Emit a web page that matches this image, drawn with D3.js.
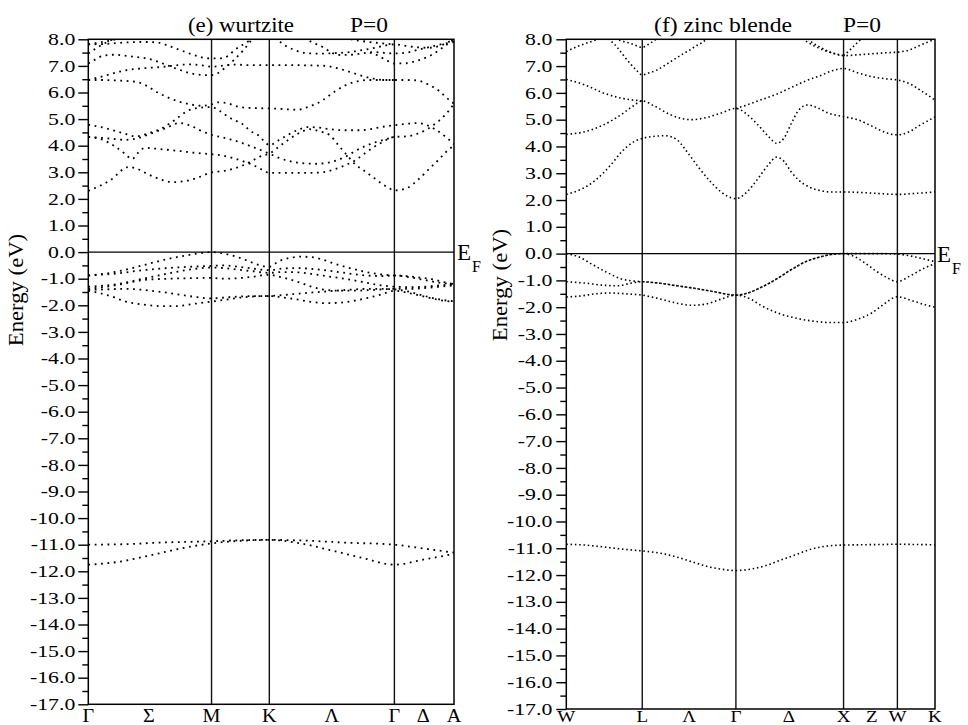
<!DOCTYPE html>
<html><head><meta charset="utf-8">
<script src="https://cdn.jsdelivr.net/npm/d3@7/dist/d3.min.js"></script>
<style>
body{margin:0;background:#fff;}
text{font-family:"Liberation Serif","Times New Roman",serif;fill:#000;}
</style>
</head><body>
<svg id="chart" width="968" height="725"></svg>
<script>
// ---------------- DATA ----------------
const energyTicks = [8,7,6,5,4,3,2,1,0,-1,-2,-3,-4,-5,-6,-7,-8,-9,-10,-11,-12,-13,-14,-15,-16,-17];
const energyTickLabels = ["8.0","7.0","6.0","5.0","4.0","3.0","2.0","1.0","0.0","-1.0","-2.0","-3.0","-4.0","-5.0","-6.0","-7.0","-8.0","-9.0","-10.0","-11.0","-12.0","-13.0","-14.0","-15.0","-16.0","-17.0"];
const energyMinorTicks = [7.5,6.5,5.5,4.5,3.5,2.5,1.5,0.5,-0.5,-1.5,-2.5,-3.5,-4.5,-5.5,-6.5,-7.5,-8.5,-9.5,-10.5,-11.5,-12.5,-13.5,-14.5,-15.5,-16.5];

// Wurtzite path (k in % of path length)
const wzKLabels = ["Γ","Σ","M","K","Λ","Γ","Δ","A"];
const wzKLabelPos = [0,16.6,33.7,49.5,66.6,83.7,91.6,100];
const wzKLines = [33.7,49.5,83.7];

const wzConduction = [
 [[0,2.3],[6,2.7],[11,3.2],[13,3.15],[16,2.95],[20,2.72],[23,2.63],[26,2.66],[30,2.8],[33.7,3.0],[37,3.05],[40,3.15],[43,3.3],[45,3.45],[47.5,3.62],[49.5,3.7],[52,3.95],[55,4.25],[58,4.5],[60.5,4.62],[63,4.55],[66,4.4],[68.5,4.0],[71,3.6],[73,3.3],[75.5,3.05],[78,2.8],[80.5,2.55],[82,2.42],[83.7,2.32],[87,2.4],[90,2.7],[93,3.1],[96,3.5],[98.5,3.85],[100,4.0]],
 [[0,4.33],[4,4.22],[7,4.0],[10,3.7],[12,3.5],[13.5,3.72],[15.5,3.92],[19,3.88],[25,3.8],[30,3.72],[33.7,3.68],[37,3.62],[40,3.52],[43,3.38],[45,3.28],[47.5,3.1],[49.5,2.98],[55,2.98],[60,2.98],[64,3.0],[67,3.1],[70,3.25],[73,3.45],[75.5,3.7],[77.5,3.9],[80,4.1],[82,4.25],[83.7,4.33],[87,4.35],[90,4.45],[93,4.65],[96,4.95],[98.5,5.3],[100,5.58]],
 [[0,4.33],[5,4.28],[10,4.22],[14,4.3],[17,4.45],[21,4.65],[25,4.85],[28,4.75],[31,4.55],[33.7,4.41],[37,4.3],[41,4.15],[45,3.95],[49.5,3.7],[52,3.55],[55,3.42],[58,3.35],[62,3.32],[65,3.35],[68,3.45],[70.5,3.6],[73,3.8],[76,4.0],[79,4.15],[83.7,4.33]],
 [[0,4.79],[5,4.65],[10,4.45],[13,4.35],[16,4.45],[20,4.65],[24,5.0],[27,5.3],[30,5.42],[33.7,5.45],[36,5.3],[38.3,5.08],[40,4.96],[42,4.83],[43.5,4.65],[45,4.5],[46.5,4.39],[48.3,4.14],[49.5,4.02],[52,4.2],[54.5,4.4],[57.5,4.6],[60,4.7],[63,4.68],[66,4.62],[70,4.58],[74,4.58],[77,4.62],[80,4.7],[83.7,4.77],[87,4.82],[90,4.85],[92,4.8],[95,4.6],[98,4.3],[100,4.05]],
 [[0,6.47],[3,6.47],[8,6.45],[13,6.4],[16,6.25],[19,6.0],[22,5.8],[25,5.65],[28,5.55],[31,5.5],[33.7,5.55],[35.5,5.63],[38,5.6],[40,5.5],[44,5.42],[49.5,5.4],[53,5.38],[57,5.35],[60,5.45],[64,5.7],[67,6.0],[70,6.25],[73,6.4],[77,6.47],[83.7,6.47],[87,6.47],[90,6.45],[93,6.3],[96,6.05],[98,5.8],[100,5.58]],
 [[0,6.47],[5,6.65],[10,6.83],[16,6.92],[20,6.96],[24,7.02],[28,7.06],[31,7.02],[33.7,6.97],[36,7.0],[40,7.05],[44,7.03],[49.5,7.03],[55,7.03],[60,7.02],[65,7.0],[67,6.95],[69,6.88],[72,6.75],[75,6.62],[78,6.52],[81,6.47],[83.7,6.47]],
 [[0,7.09],[2,7.25],[4,7.38],[7,7.42],[12,7.35],[16,7.28],[19,7.16],[22,7.0],[25,6.85],[28,6.72],[31,6.66],[33.7,6.65],[35,6.7],[37.7,6.96],[39.7,7.21],[42.4,7.59],[44.2,7.9],[45,8.05]],
 [[0,7.81],[5,7.83],[10,7.88],[15,7.9],[19,7.88],[22,7.75],[25,7.6],[28,7.45],[31,7.32],[33.7,7.28],[35.6,7.28],[37,7.31],[38.3,7.38],[40,7.6],[42,7.78],[43.8,7.93],[45,8.05]],
 [[0,7.47],[2,7.65],[4,7.82],[6,7.95],[7.5,8.05]],
 [[0,7.81],[3,7.88],[6,7.95],[9,8.05]],
 [[51,8.05],[52.5,7.9],[54,7.75],[56,7.62],[58,7.52],[61,7.47],[64,7.46],[67,7.48],[70,7.5],[73,7.55],[76,7.62],[79,7.7],[81,7.76],[83.7,7.81],[87,7.75],[90,7.7],[93,7.68],[96,7.75],[98.5,7.9],[100,8.0]],
 [[59,8.05],[61,7.9],[64.5,7.68],[66.5,7.5],[69,7.41],[72,7.42],[75,7.47],[78,7.52],[80,7.5],[83.7,7.47],[87,7.5],[90,7.6],[93,7.7],[96,7.8],[100,7.9]],
 [[70,8.05],[74,7.95],[78,7.88],[83.7,7.81]],
 [[77,7.5],[79,7.4],[81,7.25],[82.5,7.15],[83.7,7.09],[87,7.1],[90,7.2],[93,7.35],[96,7.6],[98.5,7.85],[100,8.0]]
];

const wzValence = [
 [[0,-0.88],[6,-0.78],[12,-0.6],[17,-0.42],[22,-0.25],[27,-0.12],[31,-0.03],[33.7,0],[37,-0.05],[40,-0.15],[44,-0.35],[47,-0.5],[49.5,-0.55],[52,-0.35],[55,-0.22],[58,-0.17],[61,-0.19],[64,-0.28],[67,-0.42],[71,-0.58],[75,-0.72],[79,-0.82],[83.7,-0.88],[87,-0.9],[90,-0.95],[94,-1.02],[97,-1.12],[100,-1.2]],
 [[0,-0.88],[8,-0.8],[15,-0.68],[25,-0.57],[33.7,-0.52],[37,-0.5],[41,-0.55],[45,-0.62],[49.5,-0.68],[53,-0.62],[57,-0.6],[61,-0.63],[66,-0.7],[71,-0.8],[76,-0.88],[80,-0.9],[83.7,-0.88],[88,-0.95],[92,-1.05],[96,-1.15],[100,-1.2]],
 [[0,-1.3],[8,-1.2],[15,-1.0],[22,-0.8],[28,-0.65],[33.7,-0.58],[37,-0.6],[41,-0.66],[45,-0.72],[49.5,-0.78],[53,-0.75],[57,-0.76],[61,-0.82],[66,-0.92],[71,-1.02],[76,-1.15],[80,-1.25],[83.7,-1.3],[88,-1.32],[92,-1.3],[96,-1.25],[100,-1.22]],
 [[0,-1.38],[5,-1.3],[10,-1.18],[15,-1.05],[22,-1.0],[28,-0.98],[33.7,-0.97],[37,-1.0],[41,-0.98],[45,-0.93],[49.5,-0.85],[52,-0.92],[55,-1.02],[58,-1.15],[61,-1.3],[64,-1.4],[68,-1.45],[73,-1.45],[78,-1.42],[83.7,-1.38],[88,-1.38],[92,-1.35],[96,-1.3],[100,-1.25]],
 [[0,-1.42],[5,-1.4],[10,-1.38],[15,-1.42],[20,-1.5],[25,-1.6],[29,-1.68],[33.7,-1.74],[38,-1.7],[43,-1.66],[49.5,-1.65],[52,-1.63],[56,-1.58],[61,-1.52],[67,-1.46],[73,-1.4],[78,-1.38],[83.7,-1.4],[88,-1.5],[92,-1.65],[96,-1.78],[100,-1.85]],
 [[0,-1.45],[6,-1.65],[10,-1.85],[15,-1.97],[20,-2.03],[24,-2.03],[28,-1.96],[33.7,-1.86],[37,-1.8],[41,-1.72],[45,-1.67],[49.5,-1.65],[53,-1.7],[57,-1.78],[61,-1.87],[65,-1.92],[69,-1.9],[73,-1.82],[77,-1.7],[80,-1.6],[83.7,-1.45],[88,-1.55],[92,-1.68],[96,-1.8],[100,-1.87]]
];

const wzCore = [
 [[0,-11.0],[10,-10.98],[20,-10.92],[33.7,-10.87],[42,-10.83],[49.5,-10.82],[60,-10.85],[70,-10.92],[83.7,-11.0],[92,-11.15],[100,-11.3]],
 [[0,-11.75],[8,-11.65],[17,-11.4],[25,-11.15],[33.7,-10.95],[42,-10.85],[49.5,-10.82],[58,-10.95],[66,-11.2],[75,-11.5],[83.7,-11.75],[92,-11.55],[100,-11.35]]
];

// Zinc blende path
const zbKLabels = ["W","L","Λ","Γ","Δ","X","Z","W","K"];
const zbKLabelPos = [0,20.6,33.3,46.0,60.4,75.2,82.9,89.8,100];
const zbKLines = [20.6,46.0,75.2,89.8];

const zbConduction = [
 [[0,2.21],[4,2.4],[8,2.75],[12,3.3],[15,3.8],[18,4.15],[20.6,4.3],[24,4.38],[27,4.4],[30,4.25],[33,3.75],[36,3.2],[39,2.7],[42,2.3],[44,2.12],[46,2.05],[49,2.3],[52,2.8],[55,3.35],[57,3.6],[59,3.45],[61,3.05],[63,2.75],[66,2.48],[69,2.35],[72,2.3],[75.2,2.3],[80,2.28],[85,2.24],[89.8,2.21],[95,2.25],[100,2.3]],
 [[0,4.45],[5,4.55],[10,4.8],[15,5.2],[18,5.5],[20.6,5.7],[24,5.5],[28,5.2],[31,5.05],[34,5.0],[38,5.08],[42,5.25],[46,5.42],[49,5.2],[52,4.8],[55,4.35],[57,4.12],[59,4.3],[61,4.85],[63,5.35],[65.5,5.55],[68,5.45],[71,5.25],[75.2,5.11],[79,5.0],[83,4.75],[87,4.5],[89.8,4.43],[93,4.55],[96,4.8],[100,5.1]],
 [[0,6.5],[5,6.3],[10,6.0],[15,5.8],[20.6,5.7]],
 [[46,5.42],[49,5.55],[53,5.75],[57,5.95],[61,6.2],[65,6.45],[69,6.65],[72,6.82],[75.2,6.91],[79,6.75],[83,6.6],[87,6.52],[89.8,6.48],[93,6.35],[96,6.1],[100,5.73]],
 [[0,7.54],[2.8,7.72],[6.4,7.9],[9.1,8.02]],
 [[11.4,8.02],[13.7,7.72],[15.5,7.4],[17.3,7.1],[19,6.85],[20.6,6.67],[22.5,6.75],[24.5,6.85],[27,7.05],[29,7.23],[31,7.4],[33.5,7.6],[35.5,7.78],[37.2,7.91],[38,8.02]],
 [[13.2,8.02],[15.5,7.92],[17.4,7.85],[20.6,7.7],[22.7,7.85],[24.5,8.02]],
 [[65.5,8.02],[67,7.85],[69,7.7],[71,7.55],[73,7.45],[75.2,7.39],[79,7.42],[83,7.46],[87,7.5],[89.8,7.52],[93,7.6],[96,7.78],[98.5,7.92],[100,8.0]],
 [[64,8.02],[66,7.85],[68,7.7],[70.5,7.56],[73,7.46],[75.2,7.39]],
 [[75.2,7.39],[76.5,7.55],[78,7.75],[79.5,7.95],[80,8.02]]
];

const zbValence = [
 [[0,0],[3,-0.1],[7,-0.4],[11,-0.7],[15,-0.95],[18,-1.02],[20.6,-1.05],[25,-1.1],[30,-1.2],[35,-1.3],[40,-1.42],[46,-1.55],[49,-1.48],[53,-1.25],[57,-0.95],[61,-0.6],[65,-0.3],[69,-0.12],[72,-0.03],[75.2,0],[80,0],[85,0],[89.8,-0.02],[93,-0.08],[97,-0.2],[100,-0.3]],
 [[0,-1.05],[5,-1.1],[10,-1.18],[14,-1.2],[17,-1.12],[20.6,-1.05],[25,-1.1],[30,-1.2],[35,-1.3],[40,-1.42],[46,-1.55],[49,-1.48],[53,-1.25],[57,-0.95],[61,-0.6],[65,-0.3],[69,-0.12],[72,-0.03],[75.2,0],[78,-0.1],[81,-0.35],[84,-0.65],[87,-0.9],[89.8,-1.05],[93,-0.85],[97,-0.55],[100,-0.37]],
 [[0,-1.62],[4,-1.58],[8,-1.5],[12,-1.47],[16,-1.5],[20.6,-1.55],[25,-1.68],[30,-1.85],[34,-1.93],[38,-1.88],[42,-1.7],[46,-1.55],[50,-1.7],[53,-1.95],[57,-2.2],[62,-2.4],[67,-2.52],[71,-2.57],[75.2,-2.57],[79,-2.45],[83,-2.2],[86,-1.9],[89.8,-1.61],[93,-1.72],[97,-1.9],[100,-2.0]]
];

const zbCore = [
 [[0,-10.85],[5,-10.88],[10,-10.95],[15,-11.03],[20.6,-11.1],[25,-11.17],[30,-11.33],[34,-11.5],[38,-11.67],[42,-11.78],[46,-11.83],[50,-11.78],[54,-11.65],[58,-11.45],[62,-11.25],[66,-11.05],[70,-10.93],[75.2,-10.88],[80,-10.87],[85,-10.86],[89.8,-10.85],[95,-10.86],[100,-10.87]]
];

// ---------------- DRAW ----------------
const svg = d3.select("#chart");
const FONT = '"Liberation Serif","Times New Roman",serif';

function stretch(sel, f){
  sel.each(function(){
    const w = this.getComputedTextLength();
    if (w > 0){ this.setAttribute("textLength", (w*f).toFixed(2)); this.setAttribute("lengthAdjust","spacingAndGlyphs"); }
  });
}
function fitWidth(sel, target){
  sel.attr("textLength", target).attr("lengthAdjust","spacingAndGlyphs");
}

const panels = [
  {id:"wz", x0:88.3, x1:454, y0:39.3, y1:704.3, labels:wzKLabels, labelPos:wzKLabelPos, lines:wzKLines,
   bands:[...wzConduction, ...wzValence, ...wzCore], dash:"1.8,4.6", sw:1.8,
   title:"(e) wurtzite", titleX:188, titleW:106, pX:350, tickPad:3, efX:457, ylabX:23, ylabY:290, labelBase:722, labelFont:18},
  {id:"zb", x0:566.3, x1:935, y0:39.3, y1:709, labels:zbKLabels, labelPos:zbKLabelPos, lines:zbKLines,
   bands:[...zbConduction, ...zbValence, ...zbCore], dash:"1.5,2.8", sw:1.6,
   title:"(f) zinc blende", titleX:654, titleW:138, pX:843, tickPad:4, efX:937, ylabX:507, ylabY:285, labelBase:722, labelFont:17}
];

panels.forEach(p => {
  const x = d3.scaleLinear().domain([0,100]).range([p.x0, p.x1]);
  const y = d3.scaleLinear().domain([-17, 8]).range([p.y1, p.y0]);
  const g = svg.append("g");

  const clipId = "clip-" + p.id;
  svg.append("clipPath").attr("id", clipId).append("rect")
    .attr("x", p.x0).attr("y", p.y0).attr("width", p.x1 - p.x0).attr("height", p.y1 - p.y0);

  // bands
  const line = d3.line().x(d => x(d[0])).y(d => y(d[1])).curve(d3.curveMonotoneX);
  g.append("g").attr("clip-path", `url(#${clipId})`)
    .selectAll("path").data(p.bands).join("path")
    .attr("d", line).attr("fill","none").attr("stroke","#000")
    .attr("stroke-width", p.sw).attr("stroke-dasharray", p.dash);

  // symmetry lines
  g.selectAll("line.sym").data(p.lines).join("line").attr("class","sym")
    .attr("x1", d => x(d)).attr("x2", d => x(d)).attr("y1", p.y0).attr("y2", p.y1)
    .attr("stroke","#111").attr("stroke-width",1.4);

  // Fermi level line
  g.append("line").attr("x1", p.x0).attr("x2", p.x1).attr("y1", y(0)).attr("y2", y(0))
    .attr("stroke","#000").attr("stroke-width",1.4);

  // frame
  g.append("rect").attr("x", p.x0).attr("y", p.y0).attr("width", p.x1-p.x0).attr("height", p.y1-p.y0)
    .attr("fill","none").attr("stroke","#000").attr("stroke-width",1.5);

  // y axis: major + minor ticks
  const ax = d3.axisLeft(y).tickValues(energyTicks).tickFormat((d,i) => energyTickLabels[i])
    .tickSize(10).tickPadding(p.tickPad);
  const axG = g.append("g").attr("transform", `translate(${p.x0},0)`).call(ax);
  axG.select(".domain").remove();
  axG.selectAll("line").attr("stroke","#000").attr("stroke-width",1.4);
  axG.selectAll("text").attr("font-family", FONT).attr("font-size", 16).attr("fill","#000");
  stretch(axG.selectAll("text"), 1.36);

  const axMinor = d3.axisLeft(y).tickValues(energyMinorTicks).tickFormat("").tickSize(6);
  const mG = g.append("g").attr("transform", `translate(${p.x0},0)`).call(axMinor);
  mG.select(".domain").remove();
  mG.selectAll("line").attr("stroke","#000").attr("stroke-width",1.4);

  // k-point labels
  const kG = g.append("g");
  kG.selectAll("text").data(p.labels).join("text")
    .attr("x", (d,i) => x(p.labelPos[i])).attr("y", p.labelBase)
    .attr("text-anchor","middle").attr("font-size", p.labelFont).text(d => d);
  stretch(kG.selectAll("text"), 1.12);

  // title
  const t1 = g.append("text").attr("x", p.titleX).attr("y", 32).attr("font-size", 21).text(p.title);
  const t2 = g.append("text").attr("x", p.pX).attr("y", 32).attr("font-size", 21).text("P=0");
  fitWidth(t1, p.titleW); fitWidth(t2, 38);

  // E_F label
  g.append("text").attr("x", p.efX).attr("y", y(0) + 8).attr("font-size", 23).text("E");
  g.append("text").attr("x", p.efX + 15).attr("y", y(0) + 20).attr("font-size", 16).text("F");

  // y axis title
  const yl = g.append("text").attr("transform", `translate(${p.ylabX},${p.ylabY}) rotate(-90)`)
    .attr("text-anchor","middle").attr("font-size", 21).text("Energy (eV)");
  stretch(yl, 1.08);
});
</script>
</body></html>
